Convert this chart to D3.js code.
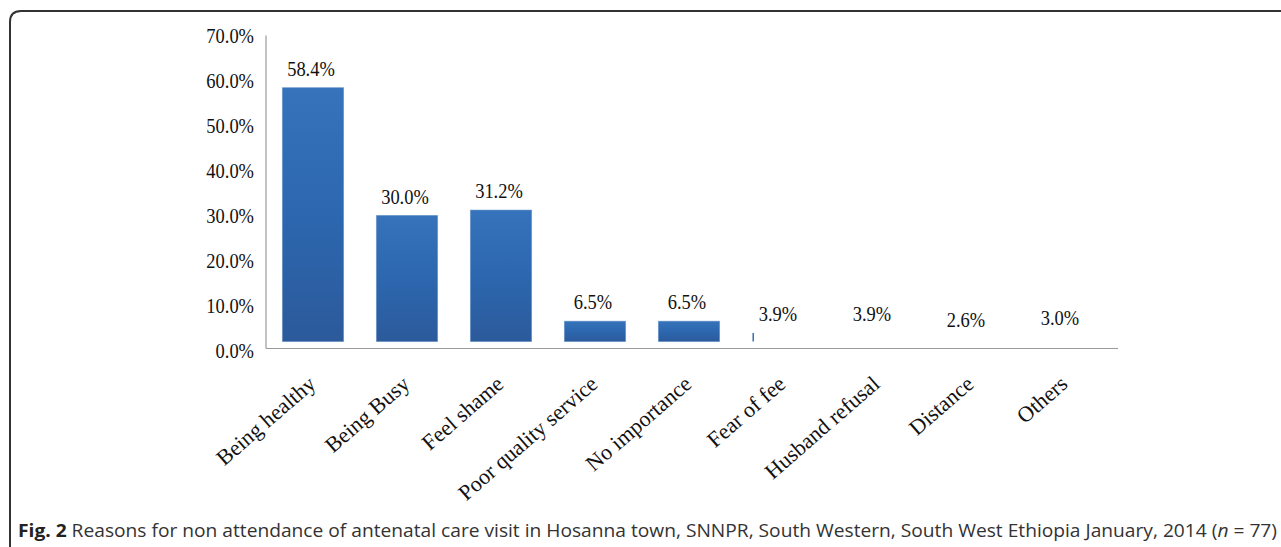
<!DOCTYPE html>
<html>
<head>
<meta charset="utf-8">
<script src="https://cdn.jsdelivr.net/npm/d3@7"></script>
<style>
  body { margin: 0; background: #fff; }
  svg { display: block; }
</style>
</head>
<body>
<div id="chart"></div>
<script>
// data
var categories = ["Being healthy", "Being Busy", "Feel shame", "Poor quality service",
  "No importance", "Fear of fee", "Husband refusal", "Distance", "Others"];
var percents = [58.4, 30.0, 31.2, 6.5, 6.5, 3.9, 3.9, 2.6, 3.0];
// only these bars show up as filled bars in the published figure
var drawnBars = ["Being healthy", "Being Busy", "Feel shame", "Poor quality service", "No importance"];
var sliverBars = ["Fear of fee"];
var yTicks = [0, 10, 20, 30, 40, 50, 60, 70];
var captionBold = "Fig. 2";
var captionText = " Reasons for non attendance of antenatal care visit in Hosanna town, SNNPR, South Western, South West Ethiopia January, 2014 (";
var captionTail = " = 77)";

var data = categories.map(function (c, i) { return { name: c, value: percents[i] }; });

var W = 1281, H = 547;
var svg = d3.select("#chart")
  .append("svg")
  .attr("width", W)
  .attr("height", H);

var defs = svg.append("defs");
var grad = defs.append("linearGradient")
  .attr("id", "barGrad")
  .attr("x1", 0).attr("y1", 0).attr("x2", 0).attr("y2", 1);
grad.append("stop").attr("offset", "0%").attr("stop-color", "#3673bb");
grad.append("stop").attr("offset", "50%").attr("stop-color", "#2c67af");
grad.append("stop").attr("offset", "100%").attr("stop-color", "#2c5a9b");

// figure frame (rounded top-left corner, open to the right / bottom)
svg.append("path")
  .attr("d", "M10,560 L10,22 Q10,11 21,11 L1290,11")
  .attr("fill", "none")
  .attr("stroke", "#333")
  .attr("stroke-width", 2);

// scales
var x = d3.scaleBand()
  .domain(categories)
  .range([266, 1112])
  .paddingInner(0.35)
  .paddingOuter(0.175);

var y = d3.scaleLinear()
  .domain([0, 70])
  .range([350.5, 35.5]);

var floorGap = 9;   // bars sit on a raised floor in the original
var serif = "'Liberation Serif', 'Times New Roman', serif";

// axes lines
svg.append("line")
  .attr("x1", x.range()[0]).attr("x2", x.range()[0])
  .attr("y1", y(70)).attr("y2", y(0) - 2)
  .attr("stroke", "#9a9a9a").attr("stroke-width", 1.2);

svg.append("line")
  .attr("x1", x.range()[0]).attr("x2", x.range()[1] + 6)
  .attr("y1", y(0) - 2).attr("y2", y(0) - 2)
  .attr("stroke", "#9a9a9a").attr("stroke-width", 1.2);

// y tick labels (text in the figure is slightly condensed)
svg.selectAll("text.ytick")
  .data(yTicks)
  .enter()
  .append("text")
  .attr("class", "ytick")
  .attr("transform", function (d) { return "translate(254," + (y(d) + 7.5) + ") scale(0.84,1)"; })
  .attr("text-anchor", "end")
  .attr("font-family", serif)
  .attr("font-size", 22)
  .attr("fill", "#111")
  .text(function (d) { return d.toFixed(1) + "%"; });

// bars
svg.selectAll("rect.bar")
  .data(data.filter(function (d) { return drawnBars.indexOf(d.name) >= 0; }))
  .enter()
  .append("rect")
  .attr("class", "bar")
  .attr("x", function (d) { return x(d.name); })
  .attr("y", function (d) { return y(d.value); })
  .attr("width", x.bandwidth())
  .attr("height", function (d) { return y(0) - floorGap - y(d.value); })
  .attr("fill", "url(#barGrad)")
  .attr("stroke", "#4a80c0")
  .attr("stroke-opacity", 0.5)
  .attr("stroke-width", 1);

svg.selectAll("rect.sliver")
  .data(data.filter(function (d) { return sliverBars.indexOf(d.name) >= 0; }))
  .enter()
  .append("rect")
  .attr("class", "sliver")
  .attr("x", function (d) { return x(d.name); })
  .attr("y", function (d) { return y(d.value); })
  .attr("width", 1.5)
  .attr("height", function (d) { return y(0) - floorGap - y(d.value); })
  .attr("fill", "#3a6fb3");

// value labels
svg.selectAll("text.val")
  .data(data)
  .enter()
  .append("text")
  .attr("class", "val")
  .attr("transform", function (d) {
    var cx = x(d.name) + x.bandwidth() / 2 - (d.value < 5 ? 5 : 2);
    return "translate(" + cx + "," + (y(d.value) - 12) + ") scale(0.84,1)";
  })
  .attr("text-anchor", "middle")
  .attr("font-family", serif)
  .attr("font-size", 22)
  .attr("fill", "#111")
  .text(function (d) { return d.value.toFixed(1) + "%"; });

// rotated category labels
svg.selectAll("text.cat")
  .data(categories)
  .enter()
  .append("text")
  .attr("class", "cat")
  .attr("transform", function (d) {
    return "translate(" + (x(d) + x.bandwidth() / 2 + 4) + "," + 386 + ") rotate(-41)";
  })
  .attr("text-anchor", "end")
  .attr("font-family", serif)
  .attr("font-size", 22)
  .attr("fill", "#111")
  .text(function (d) { return d; });

// caption
var cap = svg.append("text")
  .attr("x", 18)
  .attr("y", 537)
  .attr("font-family", "'Open Sans', 'Noto Sans', sans-serif")
  .attr("font-size", 18)
  .attr("fill", "#333");
cap.append("tspan").attr("font-weight", "bold").attr("fill", "#222").text(captionBold);
cap.append("tspan").text(captionText);
cap.append("tspan").attr("font-style", "italic").text("n");
cap.append("tspan").text(captionTail);

// stretch/squeeze the caption to the figure width
cap.attr("textLength", 1277 - 18).attr("lengthAdjust", "spacingAndGlyphs");
</script>
</body>
</html>
